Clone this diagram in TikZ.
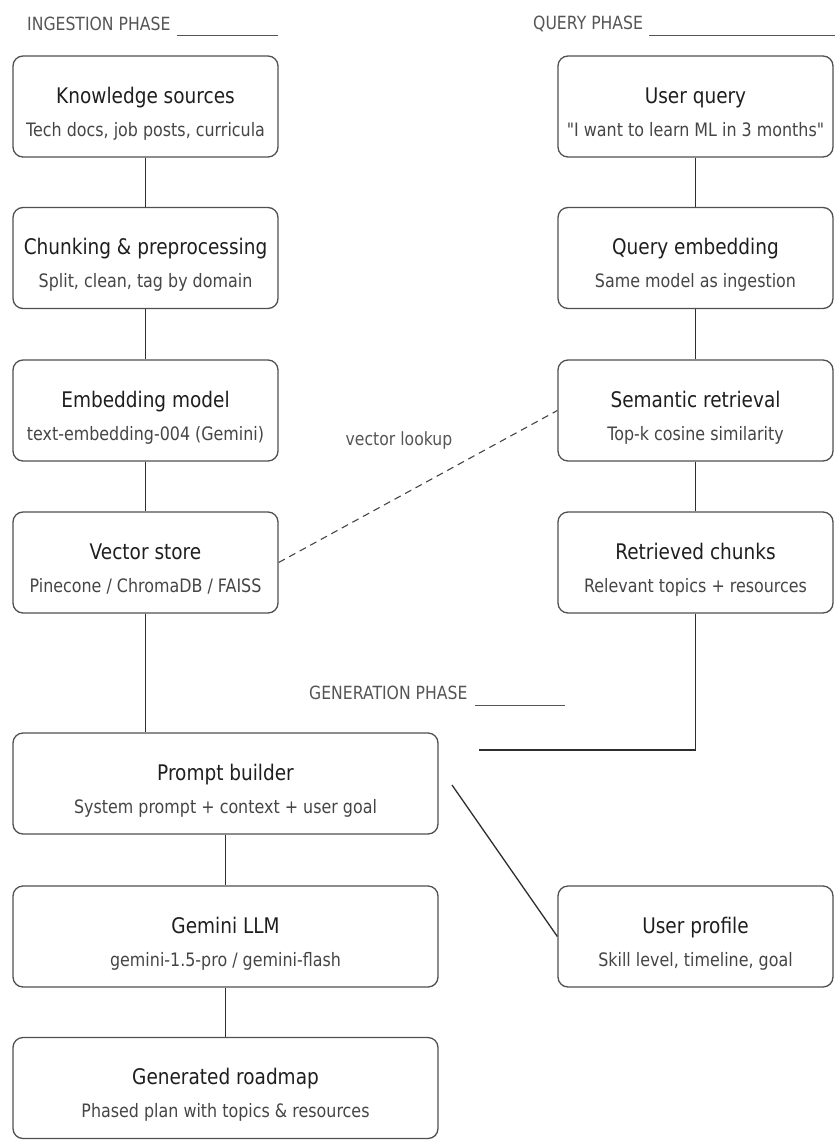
\documentclass[tikz,border=0pt]{standalone}
\usepackage{fontspec}
\setmainfont{DejaVu Sans}[FakeStretch=0.86, Ligatures=TeXOff]
\usetikzlibrary{calc, positioning}

\definecolor{ink}{HTML}{1E1E1E}
\definecolor{sub}{HTML}{454545}
\definecolor{lbl}{HTML}{555555}
\definecolor{edge}{HTML}{505050}
\definecolor{wire}{HTML}{2E2E2E}

% title line with a strut on top, subtitle line with a strut below
\newcommand{\stagetitle}[1]{{\fontsize{21.5}{33}\selectfont\color{ink}\rule{0pt}{31pt}#1}}
\newcommand{\stagenote}[1]{#1\rule[-5pt]{0pt}{5pt}}

\begin{document}
\begin{tikzpicture}[x=1pt, y=-1pt,
box/.style = {% rounded stage boxes
    draw=edge, line width=1.3pt, rounded corners=10pt,
    minimum height=101pt, inner sep=0pt, align=center,
    font=\fontsize{18.5}{33}\selectfont, text=sub,
            },
narrow/.style = {box, minimum width=265pt},
qbox/.style   = {box, minimum width=275pt},
wide/.style   = {box, minimum width=425pt},
phase/.style  = {font=\fontsize{18.2}{20}\selectfont, text=lbl, inner sep=0pt},
link/.style   = {draw=wire, line width=1.3pt},
uline/.style  = {draw=lbl, line width=0.9pt},
                        ]
\useasboundingbox (0,0) rectangle (835,1140);
% phase labels
\node[phase, anchor=west] (ingest) at (27,23.5)  {INGESTION PHASE};
\node[phase, anchor=west] (qphase) at (533,23.5) {QUERY PHASE};
\node[phase, anchor=west] (gphase) at (309,693)  {GENERATION PHASE};
\coordinate (ingest-end) at (278,35);
\coordinate (qphase-end) at (835,35);
\coordinate (gphase-end) at (565,705);
\draw[uline] (ingest.east |- ingest-end) ++(6,0) -- (ingest-end);
\draw[uline] (qphase.east |- qphase-end) ++(6,0) -- (qphase-end);
\draw[uline] (gphase.east |- gphase-end) ++(7,0) -- (gphase-end);
% ingestion column
\node[narrow] (know)  at (145.5,106.5) {\stagetitle{Knowledge sources}\\\stagenote{Tech docs, job posts, curricula}};
\node[narrow] (chunk) at (145.5,258)   {\stagetitle{Chunking \& preprocessing}\\\stagenote{Split, clean, tag by domain}};
\node[narrow] (embed) at (145.5,410.5) {\stagetitle{Embedding model}\\\stagenote{text-embedding-004 (Gemini)}};
\node[narrow] (store) at (145.5,562.5) {\stagetitle{Vector store}\\\stagenote{Pinecone / ChromaDB / FAISS}};
% query column
\node[qbox] (query)  at (695.5,106.5) {\stagetitle{User query}\\\stagenote{"I want to learn ML in 3 months"}};
\node[qbox] (qemb)   at (695.5,258)   {\stagetitle{Query embedding}\\\stagenote{Same model as ingestion}};
\node[qbox] (sem)    at (695.5,410.5) {\stagetitle{Semantic retrieval}\\\stagenote{Top-k cosine similarity}};
\node[qbox] (chunks) at (695.5,562.5) {\stagetitle{Retrieved chunks}\\\stagenote{Relevant topics + resources}};
% generation
\node[wide] (prompt)  at (225.5,783.5) {\stagetitle{Prompt builder}\\\stagenote{System prompt + context + user goal}};
\node[wide] (llm)     at (225.5,936.5) {\stagetitle{Gemini LLM}\\\stagenote{gemini-1.5-pro / gemini-flash}};
\node[wide] (roadmap) at (225.5,1088)  {\stagetitle{Generated roadmap}\\\stagenote{Phased plan with topics \& resources}};
\node[qbox] (profile) at (695.5,936.5) {\stagetitle{User profile}\\\stagenote{Skill level, timeline, goal}};
% connectors
\draw[link] (know) -- (chunk);
\draw[link] (chunk) -- (embed);
\draw[link] (embed) -- (store);
\draw[link] (store) -- (store.south |- prompt.north);
\draw[link] (query) -- (qemb);
\draw[link] (qemb) -- (sem);
\draw[link] (sem) -- (chunks);
\coordinate (merge) at (479,750);
\draw[link] (chunks) |- (merge);
\draw[link] (prompt) -- (llm);
\draw[link] (llm) -- (roadmap);
\coordinate (tap) at (452,785);
\draw[link] (tap) -- (profile.west);
% lookup
\draw[draw=sub, line width=1.1pt, dash pattern=on 7pt off 5pt] (store.east) -- (sem.west);
\node[phase] (lookup) at (399,440) {vector lookup};
\end{tikzpicture}
\end{document}
